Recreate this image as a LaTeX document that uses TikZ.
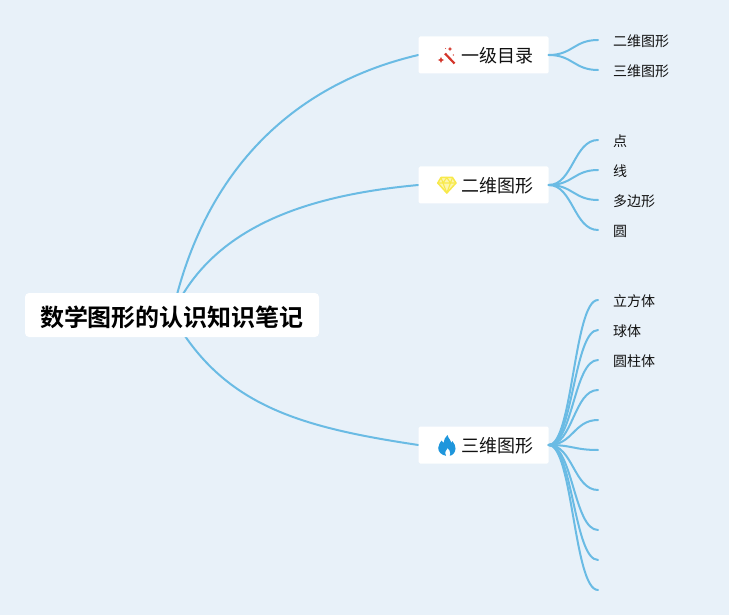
\documentclass[tikz,border=0pt]{standalone}
\usepackage{fontspec}
\newfontfamily\cjk[BoldFont={Noto Sans CJK SC Bold}]{Noto Sans CJK SC}
\definecolor{bgc}{HTML}{E8F1F9}
\definecolor{linkc}{HTML}{6ABBE4}
\definecolor{txtc}{HTML}{111111}
\definecolor{wandc}{HTML}{D4352A}
\definecolor{gemc}{HTML}{F8E94A}
\definecolor{flamec}{HTML}{1E96DC}
\pgfdeclarelayer{bg}
\pgfsetlayers{bg,main}
\tikzset{
  rootbox/.style={fill=white,rounded corners=4pt,minimum width=294pt,minimum height=44pt,inner sep=0pt,font=\cjk\bfseries\fontsize{24pt}{28pt}\selectfont,text=black},
  topicbox/.style={fill=white,rounded corners=1.5pt,minimum width=130pt,minimum height=37pt,inner sep=0pt,font=\cjk\fontsize{18pt}{22pt}\selectfont,text=txtc},
  leafbox/.style={anchor=west,inner xsep=15pt,inner ysep=0pt,font=\cjk\fontsize{14pt}{17pt}\selectfont,text=txtc},
  link/.style={draw=linkc,line width=2pt,line cap=round},
}
\newcommand{\branch}[2]{\draw[link] (#1.east) .. controls +(24,0) and +(-24,0) .. (#2);}
\newcommand{\dn}[2][2pt]{\raisebox{0pt}[\dimexpr\height+#1\relax][\depth]{#2}}
\begin{document}
\begin{tikzpicture}[x=1pt,y=-1pt]
\useasboundingbox (0,0) rectangle (729,615);
% nodes
\node[rootbox] (root) at (172,315) {\dn[4pt]{数学图形的认识知识笔记}};
\node[topicbox] (t1) at (483.5,55) {\hspace*{27pt}\dn{一级目录}};
\node[topicbox] (t2) at (483.5,185) {\hspace*{27pt}\dn{二维图形}};
\node[topicbox] (t3) at (483.5,445) {\hspace*{27pt}\dn{三维图形}};
\node[leafbox] (a1) at (598,40) {\dn{二维图形}};
\node[leafbox] (a2) at (598,70) {\dn{三维图形}};
\node[leafbox] (b1) at (598,140) {\dn{点}};
\node[leafbox] (b2) at (598,170) {\dn{线}};
\node[leafbox] (b3) at (598,200) {\dn{多边形}};
\node[leafbox] (b4) at (598,230) {\dn{圆}};
\node[leafbox] (c1) at (598,300) {\dn{立方体}};
\node[leafbox] (c2) at (598,330) {\dn{球体}};
\node[leafbox] (c3) at (598,360) {\dn{圆柱体}};
\coordinate (c4) at (598,390);
\coordinate (c5) at (598,420);
\coordinate (c6) at (598,450);
\coordinate (c7) at (598,490);
\coordinate (c8) at (598,530);
\coordinate (c9) at (598,560);
\coordinate (c10) at (598,590);
\begin{pgfonlayer}{bg}
\fill[bgc] (0,0) rectangle (729,615);
\draw[link] (root.center) .. controls +(33,-150) and +(-120,28) .. (t1.west);
\draw[link] (root.center) .. controls +(40,-90) and +(-108,10) .. (t2.west);
\draw[link] (root.center) .. controls +(50,90) and +(-120,-18) .. (t3.west);
\end{pgfonlayer}
% connectors
\branch{t1}{a1.west}
\branch{t1}{a2.west}
\branch{t2}{b1.west}
\branch{t2}{b2.west}
\branch{t2}{b3.west}
\branch{t2}{b4.west}
\branch{t3}{c1.west}
\branch{t3}{c2.west}
\branch{t3}{c3.west}
\branch{t3}{c4}
\branch{t3}{c5}
\branch{t3}{c6}
\branch{t3}{c7}
\branch{t3}{c8}
\branch{t3}{c9}
\branch{t3}{c10}
% wand icon
\draw[wandc,line width=2.2pt] (445,53.5) -- (454.5,63.5);
\fill[wandc] (441,56.8) -- (441.9,59.1) -- (444.2,60) -- (441.9,60.9) -- (441,63.2) -- (440.1,60.9) -- (437.8,60) -- (440.1,59.1) -- cycle;
\fill[wandc] (450,46.8) -- (450.7,48.3) -- (452.2,49) -- (450.7,49.7) -- (450,51.2) -- (449.3,49.7) -- (447.8,49) -- (449.3,48.3) -- cycle;
\fill[wandc] (453.3,55) circle (.7);
\fill[wandc] (445.5,48.5) circle (.5);
% gem icon
\fill[gemc!45!white] (441,177.5) -- (452.5,177.5) -- (456,183) -- (446.8,193) -- (437.8,183) -- cycle;
\draw[gemc,line width=1.5pt,line join=round] (441,177.5) -- (452.5,177.5) -- (456,183) -- (446.8,193) -- (437.8,183) -- cycle;
\draw[gemc,line width=1.1pt,line join=round] (437.8,183) -- (456,183) (441,177.5) -- (443,183) -- (446.8,193) -- (450.5,183) -- (452.5,177.5) (443,183) -- (446.8,177.5) -- (450.5,183);
% flame icon
\fill[flamec] (447.5,435) .. controls (448.5,439) and (451,440) .. (451.5,443)
  .. controls (452,442.5) and (452.3,441.8) .. (452.3,441)
  .. controls (454.5,443.5) and (455.5,446) .. (455.5,448.5)
  .. controls (455.5,452.5) and (452.5,455.5) .. (449.8,455.8)
  .. controls (450.5,454) and (450.5,452) .. (449.5,450.5)
  .. controls (449,449.5) and (448,449) .. (447.5,448)
  .. controls (446.8,449) and (445.8,450) .. (445.5,451.5)
  .. controls (445.2,453) and (445.5,454.8) .. (446,455.8)
  .. controls (441.5,455) and (438.2,452) .. (438.2,448)
  .. controls (438.2,444.5) and (440.5,442.5) .. (441.5,440.5)
  .. controls (442,441.5) and (442.5,442.5) .. (443.5,443)
  .. controls (444,440) and (445,437) .. (447.5,435) -- cycle;
\end{tikzpicture}
\end{document}
